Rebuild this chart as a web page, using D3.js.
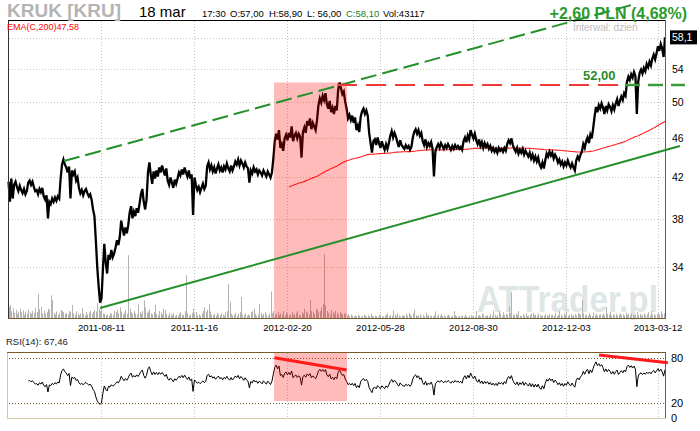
<!DOCTYPE html>
<html><head><meta charset="utf-8">
<script src="https://cdn.jsdelivr.net/npm/d3@7"></script>
<style>body{margin:0;background:#fff}svg{display:block;font-family:"Liberation Sans",Arial,sans-serif}</style>
</head><body><svg id="c" width="700" height="431"></svg>
<script>
// ---------- data ----------
const dateLabels = ["2011-08-11","2011-11-16","2012-02-20","2012-05-28","2012-08-30","2012-12-03","2013-03-12"];
const dateTickIdx = [66,132,198,264,330,396,461];
const closes = [
41.5,39.6,41.8,39.9,41.2,41.5,41.0,40.6,41.1,40.7,
40.4,40.8,40.3,40.6,41.4,41.6,41.2,41.5,41.0,40.6,
40.7,40.3,40.8,40.5,40.9,40.1,39.8,40.2,38.1,39.6,
39.4,39.9,39.6,40.0,39.7,40.1,39.9,41.8,43.2,43.7,
43.2,42.9,42.4,43.0,39.9,42.6,42.2,42.5,41.6,41.9,
40.9,40.4,40.7,40.2,40.6,40.8,40.4,40.1,40.3,39.8,
38.9,38.3,36.2,34.0,32.5,31.3,31.6,33.8,35.9,34.4,
33.5,35.0,34.6,35.4,34.8,35.1,35.6,36.2,35.8,36.5,
37.9,37.2,36.6,37.3,36.8,37.5,38.6,39.2,38.1,38.7,
38.3,39.0,38.6,39.4,40.3,40.8,39.6,38.9,39.8,42.4,
43.4,42.2,41.3,42.5,41.8,42.6,42.0,42.9,42.4,43.1,
42.6,42.1,42.8,41.6,41.2,41.9,41.4,40.9,41.7,41.3,
41.8,42.4,42.1,42.7,42.2,42.9,42.4,42.0,42.6,41.8,
42.2,38.4,41.9,41.2,40.7,41.0,40.5,40.9,41.3,40.8,
41.1,43.0,43.4,42.7,43.1,42.5,42.9,42.3,42.8,43.2,
42.6,42.9,42.4,43.0,42.7,43.3,42.8,42.5,43.1,42.6,
43.0,43.5,43.2,43.7,43.1,43.6,43.3,42.9,43.4,43.0,
42.8,41.4,42.6,42.3,42.9,42.5,42.7,42.2,42.6,42.4,
42.1,42.6,42.3,42.0,42.5,42.2,41.9,42.4,43.8,45.6,
46.4,45.8,46.8,44.9,45.3,44.6,45.9,46.3,45.7,46.5,
46.0,47.2,45.6,46.2,46.5,45.9,46.4,46.1,43.9,46.6,
47.1,46.5,47.8,47.3,48.1,46.9,47.6,47.2,46.8,47.9,
49.6,50.4,49.9,50.7,50.2,51.0,49.7,49.2,50.1,48.8,
49.3,48.6,49.5,49.0,51.4,52.3,51.6,50.9,51.2,50.0,
49.2,48.1,48.5,47.9,48.4,47.6,48.2,46.8,47.3,46.6,
48.3,48.9,49.2,48.6,49.0,48.4,46.5,45.4,44.4,45.6,
45.8,45.2,46.0,45.4,44.9,45.6,45.1,44.7,45.3,44.8,
45.4,46.2,46.7,46.0,46.5,46.1,45.5,45.0,45.7,45.2,
45.0,44.8,45.2,44.9,45.1,44.7,45.0,46.0,46.6,46.9,
46.4,46.8,46.2,46.5,45.6,45.2,45.8,45.0,45.4,45.1,
45.5,44.8,42.0,44.5,45.0,45.3,44.9,45.4,45.1,44.8,
45.2,44.9,45.3,45.0,44.7,45.1,44.8,45.2,44.9,45.1,
44.8,45.0,44.7,45.6,46.0,45.5,46.2,45.8,46.8,46.3,
45.9,46.4,45.7,45.3,45.8,45.1,45.5,44.9,45.4,45.0,
45.3,44.8,45.1,44.6,44.9,44.5,44.8,44.4,44.9,44.6,
44.8,44.5,44.9,44.6,45.3,45.7,45.4,45.9,45.2,44.8,
44.5,44.9,44.3,44.7,44.4,44.8,44.2,44.6,44.3,44.0,
44.4,43.8,44.2,43.6,44.0,43.5,43.9,43.2,42.9,43.4,
42.8,43.6,44.3,44.0,44.5,44.1,44.4,43.8,44.2,43.9,
43.4,43.7,43.2,43.5,43.0,43.4,43.1,43.6,43.2,42.9,
43.3,42.9,42.6,43.6,44.0,43.7,44.2,44.5,45.3,44.9,
45.6,46.0,45.4,46.3,45.9,47.0,48.3,49.4,48.8,49.6,
49.2,49.8,49.3,48.6,49.5,49.0,49.7,49.4,48.9,49.6,
49.1,49.8,50.3,49.5,50.1,50.6,50.2,51.0,50.7,52.4,
53.0,52.6,53.3,52.9,53.6,53.1,48.6,52.4,53.5,53.9,
53.4,54.1,53.7,54.6,54.2,54.9,54.4,55.3,55.8,55.2,
56.0,56.9,56.3,57.2,56.6,55.5,58.1
];
// volume, thousands of shares
const volumes = [
48,55,30,42,22,35,18,27,40,25,
33,15,28,20,36,24,18,30,22,45,
26,103,38,48,20,32,18,25,40,35,
97,76,22,15,28,12,20,35,30,25,
18,22,15,30,25,56,20,14,28,18,
12,20,43,18,10,25,15,22,30,18,
26,35,28,64,40,30,55,20,18,12,
15,10,22,18,14,30,26,35,20,45,
28,15,22,35,18,269,40,25,18,30,
20,15,59,25,18,30,76,45,22,28,
38,20,15,25,56,18,12,30,22,15,
40,35,18,10,22,15,12,20,8,14,
10,18,25,15,12,30,183,20,10,15,
22,40,18,25,12,15,10,20,30,45,
25,35,60,28,15,12,18,10,22,15,
12,20,15,10,25,30,147,70,18,12,
15,22,10,18,25,90,14,12,20,10,
15,12,25,30,40,18,10,15,60,22,
12,18,25,15,10,20,114,22,30,15,
18,25,12,20,15,30,10,22,18,12,
15,25,12,18,22,30,15,10,25,18,
40,28,22,15,76,30,25,18,40,35,
25,30,45,60,273,55,30,22,15,35,
25,18,30,22,15,25,20,15,18,22,
12,18,8,15,10,6,12,8,14,10,
6,8,14,10,5,12,8,18,10,6,
10,8,5,12,16,8,6,10,14,20,
8,12,10,33,15,8,20,12,6,10,
12,8,18,10,22,15,8,20,37,12,
8,10,15,6,12,8,22,10,14,8,
10,6,12,28,8,15,10,18,8,12,
6,10,14,8,5,10,30,12,8,6,
10,8,12,6,14,8,5,10,12,6,
8,5,30,10,12,8,20,14,6,10,
12,8,18,10,33,14,6,12,30,20,
10,25,12,18,14,50,22,110,15,12,
20,14,30,10,8,16,12,20,8,10,
14,18,22,12,15,10,20,14,8,12,
10,16,12,8,18,12,14,10,22,8,
12,30,15,8,20,12,25,10,14,18,
8,12,16,10,22,18,14,78,20,12,
15,10,20,14,8,22,12,18,10,14,
16,12,20,10,47,18,14,25,10,15,
12,18,10,14,20,12,16,10,22,14,
18,12,20,15,10,14,25,12,18,10,
14,20,12,16,25,10,30,14,18,12,
16,22,14,28,18,20,43
];
const priceGrid = [34,38,42,46,50,54,58];
const priceTicks = [34,38,42,46,50,54];
const rsiGrid = [80,20];
const rsiTicks = [80,20,0];
const lastPriceLabel = "58,1";
// annotations in data units (bar index, price)
const shadeIdx = [188.5, 240.3];
const shadeTopPrice = 52.3;
const upperTrend = [[39.4, 43.55],[444.7, 62.8]];
const lowerTrend = [[65.0, 30.91],[476.6, 45.1]];
const resistance = 52.0;
const resistRed = [233.2, 435.5];
const resistGreen = [437.6, 480.2];
const rsiDiv1 = [[188.8, 80.8],[240.0, 64.4]];
const rsiDiv2 = [[419.2, 84.4],[468.0, 74.1]];

// ---------- indicators (as defined on the chart) ----------
const emaPeriod = 200, rsiPeriod = 14;
const ema = [];
{
  let s = 0; for (let i = 0; i < emaPeriod; i++) s += closes[i];
  let e = s / emaPeriod; ema.push([emaPeriod-1, e]);
  const k = 2/(emaPeriod+1);
  for (let i = emaPeriod; i < closes.length; i++) { e = e + k*(closes[i]-e); ema.push([i, e]); }
}
const rsi = [];
{
  let g = 0, l = 0;
  for (let i = 1; i <= rsiPeriod; i++) { const d = closes[i]-closes[i-1]; if (d>0) g+=d; else l-=d; }
  g/=rsiPeriod; l/=rsiPeriod;
  rsi.push([rsiPeriod, l===0?100:100-100/(1+g/l)]);
  for (let i = rsiPeriod+1; i < closes.length; i++) {
    const d = closes[i]-closes[i-1];
    g = (g*(rsiPeriod-1) + Math.max(d,0))/rsiPeriod;
    l = (l*(rsiPeriod-1) + Math.max(-d,0))/rsiPeriod;
    rsi.push([i, l===0?100:100-100/(1+g/l)]);
  }
}

// ---------- scales ----------
const svg = d3.select("#c");
const x = d3.scaleLinear().domain([0, closes.length-1]).range([8.5, 665]);
const y = d3.scaleLog().domain([30.2, 60.5]).range([318, 20]);
const vy = d3.scaleLinear().domain([0, 300]).range([318, 248]);
const ry = d3.scaleLinear().domain([0, 100]).range([418.3, 343.3]);
const crisp = v => Math.round(v)+0.5;

// background
svg.append("rect").attr("width",700).attr("height",431).attr("fill","#fff");

// watermark
svg.append("text").attr("x",477).attr("y",312).attr("font-size",37).attr("font-weight","bold")
  .attr("textLength",181).attr("lengthAdjust","spacingAndGlyphs")
  .attr("fill","#dfe6e6").text("ATTrader.pl");

// main grid
const g = svg.append("g");
g.selectAll(".hg").data(priceGrid).join("line")
  .attr("x1",9).attr("x2",665).attr("y1",d=>crisp(y(d))).attr("y2",d=>crisp(y(d)))
  .attr("stroke","#d6c8ab").attr("stroke-dasharray","1,2");
g.selectAll(".vg").data(dateTickIdx).join("line")
  .attr("x1",d=>crisp(x(d))).attr("x2",d=>crisp(x(d))).attr("y1",21).attr("y2",318)
  .attr("stroke","#c2c2c2").attr("stroke-dasharray","1,2");

// volume
svg.append("g").selectAll("rect").data(volumes).join("rect")
  .attr("x",(d,i)=>Math.round(x(i))).attr("width",1)
  .attr("y",d=>vy(d)).attr("height",d=>318-vy(d)).attr("fill","#b3b3b3");

// EMA
const line = d3.line().x(d=>x(d[0])).y(d=>y(d[1]));
svg.append("path").attr("d",line(ema)).attr("fill","none").attr("stroke","#ff1e1e").attr("stroke-width",1.1);

// price
svg.append("path").attr("d",d3.line().x((d,i)=>x(i)).y(d=>y(d))(closes))
  .attr("fill","none").attr("stroke","#000").attr("stroke-width",2.3);

// shaded zone
svg.append("rect").attr("x",x(shadeIdx[0])).attr("width",x(shadeIdx[1])-x(shadeIdx[0]))
  .attr("y",y(shadeTopPrice)).attr("height",318-y(shadeTopPrice))
  .attr("fill","#ff0000").attr("fill-opacity",0.27);

// trend lines
svg.append("line").attr("x1",x(upperTrend[0][0])).attr("y1",y(upperTrend[0][1]))
  .attr("x2",x(upperTrend[1][0])).attr("y2",y(upperTrend[1][1]))
  .attr("stroke","#24902a").attr("stroke-width",2).attr("stroke-dasharray","16,6");
svg.append("line").attr("x1",x(lowerTrend[0][0])).attr("y1",y(lowerTrend[0][1]))
  .attr("x2",x(lowerTrend[1][0])).attr("y2",y(lowerTrend[1][1]))
  .attr("stroke","#24902a").attr("stroke-width",2);
svg.append("line").attr("x1",x(resistRed[0])).attr("x2",x(resistRed[1]))
  .attr("y1",y(resistance)).attr("y2",y(resistance))
  .attr("stroke","#f03a3a").attr("stroke-width",2).attr("stroke-dasharray","20,9");
svg.append("line").attr("x1",x(resistGreen[0])).attr("x2",x(resistGreen[1]))
  .attr("y1",y(resistance)).attr("y2",y(resistance))
  .attr("stroke","#3c9a3c").attr("stroke-width",2.5).attr("stroke-dasharray","15,8");
svg.append("text").attr("x",583).attr("y",y(resistance)-5).attr("font-size",13).attr("font-weight","bold")
  .attr("fill","#2a8a2a").text("52,00");

// main frame
svg.append("line").attr("x1",8).attr("x2",666).attr("y1",20.5).attr("y2",20.5).attr("stroke","#000");
svg.append("line").attr("x1",8.5).attr("x2",8.5).attr("y1",20).attr("y2",319).attr("stroke","#333");
svg.append("line").attr("x1",665.5).attr("x2",665.5).attr("y1",20).attr("y2",319).attr("stroke","#7b5c24");
svg.append("line").attr("x1",8).attr("x2",666).attr("y1",318.5).attr("y2",318.5).attr("stroke","#7b5c24");

// price axis labels
svg.selectAll(".pl").data(priceTicks).join("text")
  .attr("x",672).attr("y",d=>y(d)+4).attr("font-size",10.5).attr("fill","#000").text(d=>d);
svg.append("rect").attr("x",670).attr("y",y(closes[closes.length-1])-7).attr("width",27).attr("height",14).attr("fill","#000");
svg.append("text").attr("x",672).attr("y",y(closes[closes.length-1])+4).attr("font-size",10.5).attr("fill","#fff").text(lastPriceLabel);

// date labels
svg.selectAll(".dl").data(dateTickIdx).join("text")
  .attr("x",d=>x(d)).attr("y",331).attr("text-anchor","middle").attr("font-size",9.5).attr("fill","#000")
  .text((d,i)=>dateLabels[i]);

// header
svg.append("text").attr("x",7).attr("y",16.5).attr("font-size",19).attr("font-weight","bold").attr("fill","#b4b4b4").text("KRUK [KRU]");
svg.append("text").attr("x",139).attr("y",17).attr("font-size",15).attr("fill","#000").text("18 mar");
const hdr = [["17:30",202,"#000"],["O:57,00",230,"#000"],["H:58,90",269,"#000"],["L: 56,00",307,"#000"],["C:58,10",346,"#1f7a1f"],["Vol:43117",383,"#000"]];
svg.selectAll(".hd").data(hdr).join("text").attr("x",d=>d[1]).attr("y",17).attr("font-size",9.5).attr("fill",d=>d[2]).text(d=>d[0]);
svg.append("text").attr("x",687).attr("y",19).attr("text-anchor","end").attr("font-size",16).attr("font-weight","bold").attr("fill","#2c9a2c").text("+2,60 PLN (4,68%)");
svg.append("text").attr("x",573).attr("y",31).attr("font-size",10).attr("fill","#bdbdbd").text("Interwał: dzień");
svg.append("text").attr("x",7).attr("y",30).attr("font-size",9).attr("fill","#ff0000").text("EMA(C,200)47,58");

// ---------- RSI panel ----------
svg.append("text").attr("x",6).attr("y",345).attr("font-size",9.5).attr("fill","#222").text("RSI(14): 67,46");
svg.selectAll(".rg").data(rsiGrid).join("line")
  .attr("x1",9).attr("x2",665).attr("y1",d=>crisp(ry(d))).attr("y2",d=>crisp(ry(d)))
  .attr("stroke","#7b5c24").attr("stroke-dasharray","1,2");
svg.selectAll(".rv").data(dateTickIdx).join("line")
  .attr("x1",d=>crisp(x(d))).attr("x2",d=>crisp(x(d))).attr("y1",353).attr("y2",418)
  .attr("stroke","#c2c2c2").attr("stroke-dasharray","1,2");
svg.append("path").attr("d",d3.line().x(d=>x(d[0])).y(d=>ry(d[1]))(rsi))
  .attr("fill","none").attr("stroke","#000").attr("stroke-width",1);
svg.append("rect").attr("x",x(shadeIdx[0])).attr("width",x(shadeIdx[1])-x(shadeIdx[0]))
  .attr("y",353).attr("height",48).attr("fill","#ff0000").attr("fill-opacity",0.27);
[rsiDiv1, rsiDiv2].forEach(s => svg.append("line")
  .attr("x1",x(s[0][0])).attr("y1",ry(s[0][1])).attr("x2",x(s[1][0])).attr("y2",ry(s[1][1]))
  .attr("stroke","#ff1a1a").attr("stroke-width",3));
svg.append("line").attr("x1",7).attr("x2",666).attr("y1",352.5).attr("y2",352.5).attr("stroke","#7b5c24");
svg.append("line").attr("x1",665.5).attr("x2",665.5).attr("y1",352).attr("y2",419).attr("stroke","#7b5c24");
svg.append("line").attr("x1",7.5).attr("x2",7.5).attr("y1",353).attr("y2",419).attr("stroke","#d8c9a4");
svg.append("line").attr("x1",7).attr("x2",666).attr("y1",418.5).attr("y2",418.5).attr("stroke","#d8c9a4");
svg.selectAll(".rl").data(rsiTicks).join("text")
  .attr("x",671).attr("y",d=>ry(d)+4).attr("font-size",11).attr("fill","#000").text(d=>d);
</script></body></html>
